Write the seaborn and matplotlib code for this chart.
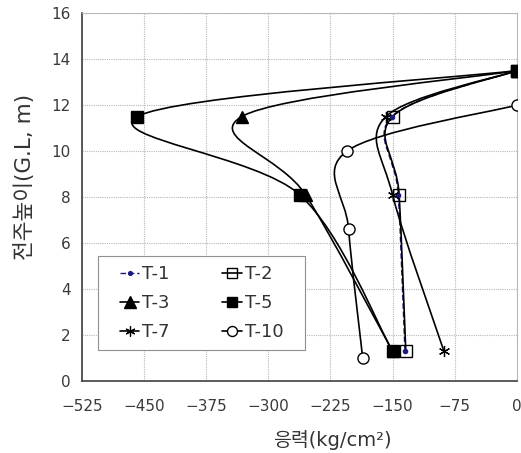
import numpy as np
import pandas as pd
import matplotlib
matplotlib.use("Agg")
import matplotlib.pyplot as plt
import seaborn as sns
from matplotlib.path import Path
from matplotlib.patches import PathPatch, Rectangle
from matplotlib.lines import Line2D

# values
height_main = [13.5, 11.5, 8.1, 1.3]
height_t10 = [12.0, 10.0, 6.6, 1.0]
stress_t1 = [0, -151, -143, -135]
stress_t2 = [0, -150, -142, -134]
stress_t3 = [0, -332, -255, -150]
stress_t5 = [0, -458, -262, -150]
stress_t7 = [0, -158, -150, -88]
stress_t10 = [0, -205, -203, -186]

x_ticks = [-525, -450, -375, -300, -225, -150, -75, 0]
y_ticks = [0, 2, 4, 6, 8, 10, 12, 14, 16]

sns.set_style("whitegrid")
# DejaVu for latin text, Noto CJK picks up the hangul
plt.rcParams['font.family'] = ['DejaVu Sans', 'Noto Sans CJK KR']
plt.rcParams['axes.unicode_minus'] = True

series = [
    # name, x, y, line style, marker style
    ("T-1", stress_t1, height_main, dict(color="#1a1a80", ls=(0, (4, 2)), lw=1.0),
     dict(marker="o", ms=3, mfc="#1a1a80", mec="#1a1a80")),
    ("T-2", stress_t2, height_main, dict(color="black", ls="-", lw=1.2),
     dict(marker="s", ms=8, mfc="none", mec="black", mew=1.0)),
    ("T-3", stress_t3, height_main, dict(color="black", ls="-", lw=1.2),
     dict(marker="^", ms=9, mfc="black", mec="black")),
    ("T-5", stress_t5, height_main, dict(color="black", ls="-", lw=1.2),
     dict(marker="s", ms=8, mfc="black", mec="black")),
    ("T-7", stress_t7, height_main, dict(color="black", ls="-", lw=1.2),
     dict(marker=(6, 2, 0), ms=8, mfc="black", mec="black", mew=0.9)),
    ("T-10", stress_t10, height_t10, dict(color="black", ls="-", lw=1.2),
     dict(marker="o", ms=8, mfc="white", mec="black", mew=1.0)),
]


def smooth_path(xs, ys):
    # Excel-style smoothed line: cubic Bezier through the points
    p = np.column_stack([xs, ys]).astype(float)
    n = len(p)
    verts = [p[0]]
    codes = [Path.MOVETO]
    for i in range(n - 1):
        p0 = p[i - 1] if i > 0 else p[i]
        p1, p2 = p[i], p[i + 1]
        p3 = p[i + 2] if i + 2 < n else p[i + 1]
        c1 = p1 + (p2 - p0) / 6.0
        c2 = p2 - (p3 - p1) / 6.0
        verts += [c1, c2, p2]
        codes += [Path.CURVE4] * 3
    return Path(verts, codes)


fig, ax = plt.subplots(figsize=(5.21, 4.53), dpi=100)
fig.subplots_adjust(left=0.157, right=0.992, bottom=0.159, top=0.971)

handles = {}
for name, xs, ys, lst, mst in series:
    patch = PathPatch(smooth_path(xs, ys), fill=False, edgecolor=lst["color"],
                      linestyle=lst["ls"], linewidth=lst["lw"], zorder=3)
    ax.add_patch(patch)
    df = pd.DataFrame({"stress": xs, "height": ys})
    ax.plot(df["stress"], df["height"], linestyle="none", zorder=4, **mst)
    handles[name] = Line2D([], [], color=lst["color"], linestyle=lst["ls"],
                           linewidth=lst["lw"], **mst)

ax.set_xlim(-525, 0)
ax.set_ylim(0, 16)
ax.set_xticks(x_ticks)
ax.set_yticks(y_ticks)
ax.grid(True, color="#b8b8b8", linestyle=(0, (1, 1)), linewidth=0.8)
for s in ["top", "right"]:
    ax.spines[s].set_color("#b8b8b8")
    ax.spines[s].set_linewidth(0.8)
for s in ["left", "bottom"]:
    ax.spines[s].set_color("#404040")
    ax.spines[s].set_linewidth(1.2)
ax.tick_params(axis="both", labelsize=11, labelcolor="#3a3a3a",
               color="#404040", width=1)
ax.tick_params(axis="x", direction="in", length=4, pad=13)
ax.tick_params(axis="y", direction="inout", length=6, pad=5)

ax.set_xlabel("응력(kg/cm²)", fontsize=14, color="#333333")
ax.xaxis.set_label_coords(0.577, -0.133)
ax.set_ylabel("전주높이(G.L, m)", fontsize=15.5, color="#333333")
ax.yaxis.set_label_coords(-0.108, 0.555)

# legend box
box = (0.037, 0.084, 0.476, 0.256)
ax.add_patch(Rectangle(box[:2], box[2], box[3], transform=ax.transAxes,
                       facecolor="white", edgecolor="#909090", linewidth=0.8,
                       zorder=5))
order = ["T-1", "T-3", "T-7", "T-2", "T-5", "T-10"]
leg = ax.legend([handles[k] for k in order], order, ncol=2, loc="center",
                bbox_to_anchor=box, fontsize=13, frameon=False,
                handlelength=1.1, handletextpad=0.15, columnspacing=2.9,
                labelspacing=0.6, borderpad=0.3, borderaxespad=0,
                markerscale=0.9)
leg.set_zorder(6)
for t in leg.get_texts():
    t.set_color("#333333")

fig.savefig("out.png", dpi=100)
